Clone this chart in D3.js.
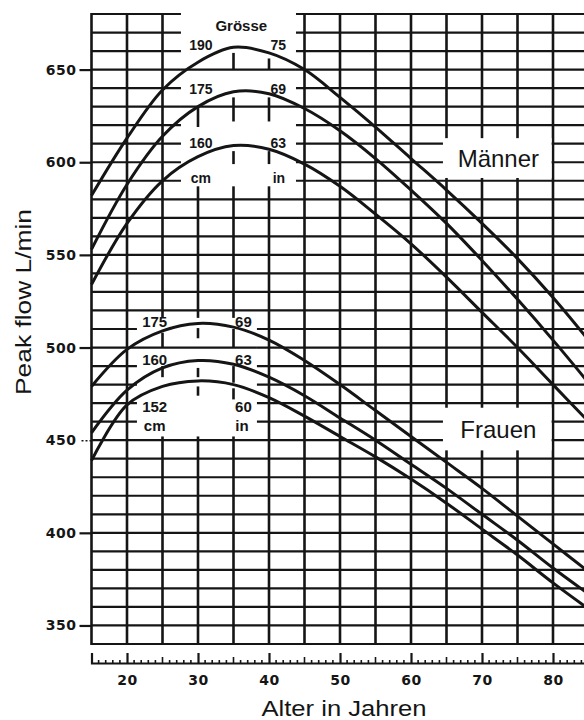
<!DOCTYPE html>
<html>
<head>
<meta charset="utf-8">
<script src="https://cdn.jsdelivr.net/npm/d3@7"></script>
<style>
  body { margin: 0; background: #fff; }
  svg { display: block; }
</style>
</head>
<body>
<svg width="584" height="720"></svg>
<script>
// values (L/min), one per age
const ages = [15, 20, 25, 30, 35, 40, 45, 50, 55, 60, 65, 70, 75, 80, 85];
const men190 = [582, 613, 639, 654, 662, 659, 650, 635, 619, 602, 585, 567, 548, 527, 504];
const men175 = [553, 588, 614, 630, 638, 637, 629, 617, 602, 585, 567, 547, 526, 504, 481];
const men160 = [534, 567, 590, 603, 609, 607, 599, 587, 572, 556, 538, 519, 500, 480, 460];
const women175 = [479, 499, 509, 513, 511, 504, 493, 480, 466, 452, 438, 424, 409, 394, 379];
const women160 = [454, 477, 489, 493, 491, 484, 474, 462, 450, 437, 424, 410, 396, 381, 367];
const women152 = [439, 469, 479, 482, 480, 473, 463, 452, 441, 429, 416, 402, 388, 373, 359];

const menCm = ['190', '175', '160'];
const menIn = ['75', '69', '63'];
const womenCm = ['175', '160', '152'];
const womenIn = ['69', '63', '60'];

const xTicks = [20, 30, 40, 50, 60, 70, 80];
const yTicks = [350, 400, 450, 500, 550, 600, 650];

const svg = d3.select('svg');
const ink = '#151515';

const x = d3.scaleLinear().domain([15, 85]).range([91.5, 588.5]);
const y = d3.scaleLinear().domain([340, 680]).range([644, 14]);

// grid
const grid = svg.append('g');
grid.selectAll('line.h')
  .data(d3.range(340, 681, 10))
  .join('line')
  .attr('x1', x(15)).attr('x2', x(85))
  .attr('y1', d => y(d)).attr('y2', d => y(d))
  .attr('stroke', ink).attr('stroke-width', 2.2);
grid.selectAll('line.v')
  .data(d3.range(15, 86, 5))
  .join('line')
  .attr('x1', d => x(d)).attr('x2', d => x(d))
  .attr('y1', y(680) - 1).attr('y2', y(340) + 1)
  .attr('stroke', ink).attr('stroke-width', 2.6);

// blanked areas where the size labels sit
const blank = (a0, a1, v0, v1) => svg.append('rect')
  .attr('x', x(a0)).attr('width', x(a1) - x(a0))
  .attr('y', y(v1)).attr('height', y(v0) - y(v1))
  .attr('fill', '#fff');

blank(27.6, 43.8, 587, 684);
blank(21.4, 38.3, 452, 516);
blank(64.5, 79.8, 591.5, 613);
blank(64.5, 79.8, 444.5, 467.5);

// lines kept through the label areas
const kept = [[27.6, 43.8, 650], [27.6, 43.8, 630], [21.4, 38.3, 500]];
svg.append('g').selectAll('line')
  .data(kept)
  .join('line')
  .attr('x1', d => x(d[0])).attr('x2', d => x(d[1]))
  .attr('y1', d => y(d[2])).attr('y2', d => y(d[2]))
  .attr('stroke', ink).attr('stroke-width', 2.2);

const stubs = [
  [35, 650, 659], [40, 650, 656], [35, 622, 635], [40, 622, 635], [30, 619, 630],
  [35, 599, 606], [40, 599, 606],
  [30, 505, 510.5], [30, 484, 489], [30, 474, 479], [35, 500, 510], [35, 481, 490],
  [35, 472, 478], [25, 500, 508], [25, 484, 490]
];
svg.append('g').selectAll('line')
  .data(stubs)
  .join('line')
  .attr('x1', d => x(d[0])).attr('x2', d => x(d[0]))
  .attr('y1', d => y(d[1])).attr('y2', d => y(d[2]))
  .attr('stroke', ink).attr('stroke-width', 2.6);

// curves
const series = [men190, men175, men160, women175, women160, women152];
const line = d3.line()
  .x((d, i) => x(ages[i]))
  .y(d => y(d))
  .curve(d3.curveCatmullRom.alpha(0.5));

svg.append('g').selectAll('path')
  .data(series)
  .join('path')
  .attr('d', d => line(d))
  .attr('fill', 'none')
  .attr('stroke', ink)
  .attr('stroke-width', 3);

// size labels
const lab = svg.append('g')
  .attr('font-family', '"Liberation Sans", Arial, sans-serif')
  .attr('font-weight', 'bold')
  .attr('fill', ink)
  .attr('text-anchor', 'middle');

lab.append('text')
  .attr('x', x(36.1)).attr('y', y(d3.max(men190)) - 16)
  .attr('font-size', 15)
  .text('Grösse');

const menRows = [men190, men175, men160];
menRows.forEach((s, i) => {
  const by = y(d3.max(s)) + 2.5;
  lab.append('text').attr('x', x(30.4)).attr('y', by).attr('font-size', 14).text(menCm[i]);
  lab.append('text').attr('x', x(41.3)).attr('y', by).attr('font-size', 14).text(menIn[i]);
});
lab.append('text').attr('x', x(30.4)).attr('y', y(d3.max(men160)) + 37).attr('font-size', 14).text('cm');
lab.append('text').attr('x', x(41.4)).attr('y', y(d3.max(men160)) + 37).attr('font-size', 14).text('in');

const womenRows = [women175, women160, women152];
const womenOff = [3.5, 4.5, 31];
womenRows.forEach((s, i) => {
  const by = y(d3.max(s)) + womenOff[i];
  lab.append('text').attr('x', x(23.9)).attr('y', by).attr('font-size', 15).text(womenCm[i]);
  lab.append('text').attr('x', x(36.4)).attr('y', by).attr('font-size', 15).text(womenIn[i]);
});
lab.append('text').attr('x', x(23.9)).attr('y', y(d3.max(women152)) + 50).attr('font-size', 15).text('cm');
lab.append('text').attr('x', x(36.2)).attr('y', y(d3.max(women152)) + 50).attr('font-size', 15).text('in');

// group names
const grp = svg.append('g')
  .attr('font-family', '"Liberation Sans", Arial, sans-serif')
  .attr('font-size', 24)
  .attr('fill', ink)
  .attr('text-anchor', 'middle');
grp.append('text').attr('x', x(72.3)).attr('y', (y(591.5) + y(613)) / 2 + 8.5).text('Männer');
grp.append('text').attr('x', x(72.3)).attr('y', (y(444.5) + y(467.5)) / 2 + 8.5).text('Frauen');

// y axis
const yAxis = svg.append('g')
  .attr('transform', `translate(${x(15)},0)`)
  .call(d3.axisLeft(y).tickValues(yTicks).tickSize(12).tickPadding(3));
yAxis.select('.domain').remove();
yAxis.selectAll('.tick line').attr('stroke', ink).attr('stroke-width', 2.2);
yAxis.selectAll('.tick').filter(d => d === 450).select('line').attr('stroke-dasharray', '2,2').attr('stroke-width', 1.4);
yAxis.selectAll('.tick text')
  .attr('font-family', '"DejaVu Sans", sans-serif')
  .attr('font-weight', 'bold')
  .attr('font-size', 14)
  .attr('letter-spacing', 0.5)
  .attr('fill', ink);

// x axis, a separate ruler below the grid
const xAxis = svg.append('g')
  .attr('transform', 'translate(0,663)')
  .call(d3.axisBottom(x).tickValues(xTicks).tickSize(-10).tickSizeOuter(-10).tickPadding(12));
xAxis.select('.domain').attr('stroke', ink).attr('stroke-width', 2.2);
xAxis.selectAll('.tick line').attr('stroke', ink).attr('stroke-width', 2.2);
xAxis.selectAll('.tick text')
  .attr('font-family', '"DejaVu Sans", sans-serif')
  .attr('font-weight', 'bold')
  .attr('font-size', 14)
  .attr('letter-spacing', 0.5)
  .attr('fill', ink);
xAxis.append('g').selectAll('line')
  .data(d3.range(16, 85).filter(d => d % 10 !== 0))
  .join('line')
  .attr('x1', d => x(d)).attr('x2', d => x(d))
  .attr('y1', d => d % 5 === 0 ? -6 : -3).attr('y2', 0)
  .attr('stroke', ink).attr('stroke-width', 1.6);

// axis titles
svg.append('text')
  .attr('x', 344).attr('y', 716)
  .attr('text-anchor', 'middle')
  .attr('font-family', '"Liberation Sans", Arial, sans-serif')
  .attr('font-size', 22)
  .attr('textLength', 165)
  .attr('lengthAdjust', 'spacingAndGlyphs')
  .attr('fill', ink)
  .text('Alter in Jahren');

svg.append('text')
  .attr('transform', 'translate(31,302) rotate(-90)')
  .attr('text-anchor', 'middle')
  .attr('font-family', '"Liberation Sans", Arial, sans-serif')
  .attr('font-size', 22)
  .attr('textLength', 186)
  .attr('lengthAdjust', 'spacingAndGlyphs')
  .attr('fill', ink)
  .text('Peak flow L/min');
</script>
</body>
</html>
